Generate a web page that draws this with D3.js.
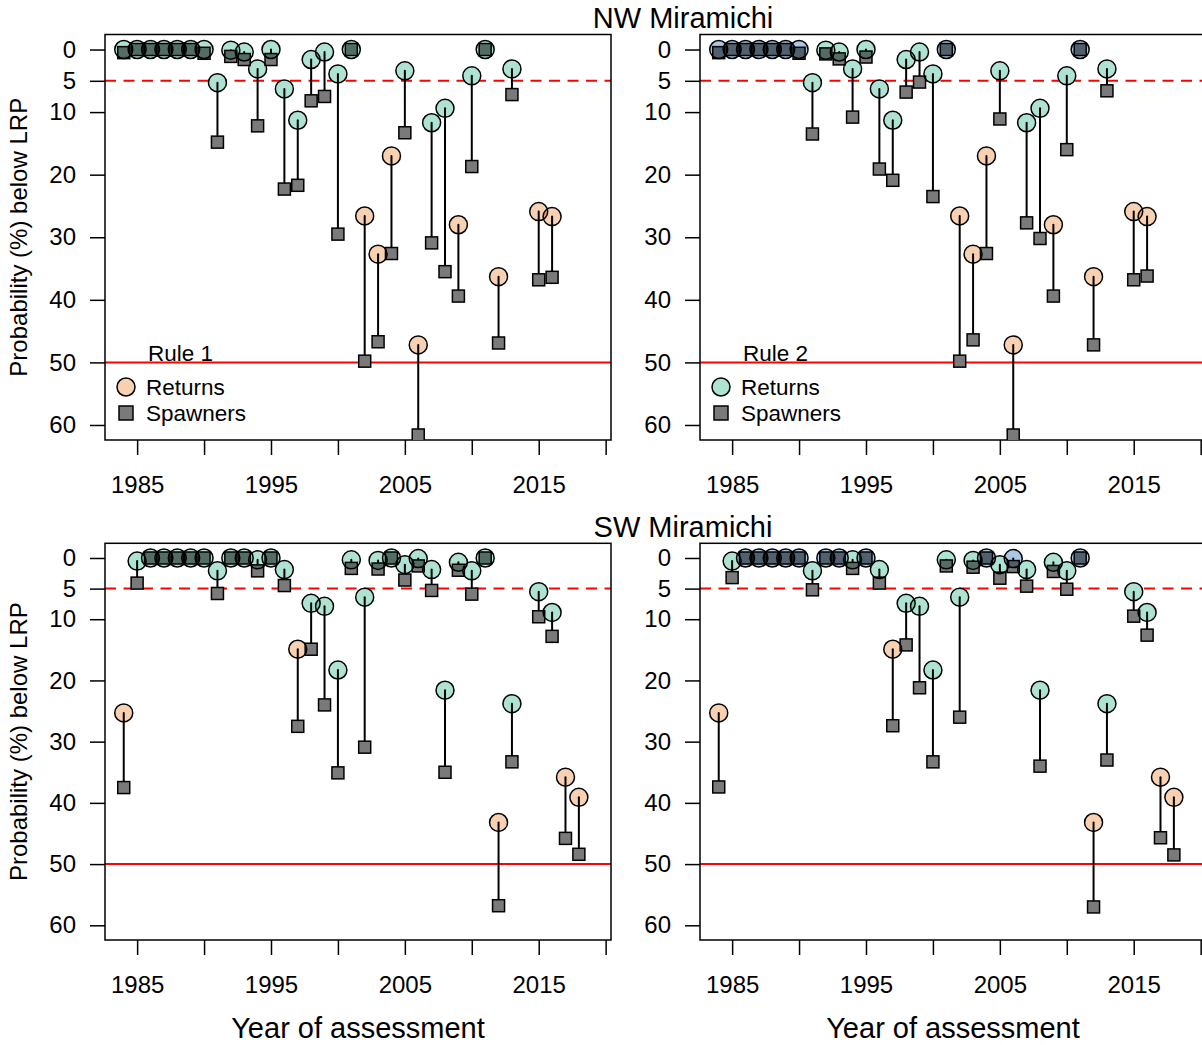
<!DOCTYPE html>
<html>
<head>
<meta charset="utf-8">
<script src="https://cdn.jsdelivr.net/npm/d3@7"></script>
<style>
  body { margin: 0; background: #fff; }
  svg { font-family: "Liberation Sans", Arial, sans-serif; }
</style>
</head>
<body>
<div id="chart"></div>
<script>
'use strict';

// years of assessment
var yearsNW = [1984, 1985, 1986, 1987, 1988, 1989, 1990, 1991, 1992, 1993, 1994, 1995, 1996, 1997, 1998, 1999,
  2000, 2001, 2002, 2003, 2004, 2005, 2006, 2007, 2008, 2009, 2010, 2011, 2012, 2013, 2015, 2016];
var yearsSW = [1984, 1985, 1986, 1987, 1988, 1989, 1990, 1991, 1992, 1993, 1994, 1995, 1996, 1997, 1998, 1999,
  2000, 2001, 2002, 2003, 2004, 2005, 2006, 2007, 2008, 2009, 2010, 2011, 2012, 2013, 2015, 2016, 2017, 2018];

// probability (%) below LRP - returns (same for both rules)
var returnsNW = [0, 0, 0, 0, 0, 0, 0, 5.3, 0.1, 0.4, 3.1, 0, 6.3, 11.3, 1.6, 0.4,
  3.9, 0, 26.6, 32.7, 17.0, 3.4, 47.2, 11.7, 9.4, 28.0, 4.2, 0, 36.3, 3.1, 25.9, 26.7];
var returnsSW = [25.3, 0.5, 0, 0, 0, 0, 0, 2.1, 0, 0, 0.3, 0, 1.9, 14.9, 7.4, 7.9,
  18.3, 0.3, 6.4, 0.4, 0, 1.1, 0.1, 1.9, 21.6, 0.7, 2.1, 0, 43.2, 23.8, 5.5, 8.9, 35.8, 39.1];

// probability (%) below LRP - spawners
var spawnersNW1 = [0.5, 0, 0, 0, 0, 0, 0.6, 14.8, 1.1, 1.6, 12.2, 1.6, 22.3, 21.7, 8.2, 7.5,
  29.5, 0, 49.8, 46.7, 32.6, 13.3, 61.6, 30.9, 35.5, 39.4, 18.7, 0, 46.9, 7.2, 36.8, 36.4];
var spawnersNW2 = [0.5, 0, 0, 0, 0, 0, 0.6, 13.5, 0.7, 1.5, 10.8, 1.2, 19.1, 20.9, 6.8, 5.2,
  23.5, 0, 49.8, 46.4, 32.6, 11.1, 61.6, 27.7, 30.2, 39.4, 16.0, 0, 47.2, 6.6, 36.8, 36.2];
var spawnersSW1 = [37.5, 4.1, 0, 0, 0, 0, 0, 5.8, 0, 0, 2.1, 0, 4.5, 27.5, 14.9, 24.0,
  35.1, 1.7, 30.9, 1.8, 0, 3.6, 1.3, 5.3, 35.0, 2.0, 5.9, 0, 56.8, 33.3, 9.6, 12.8, 45.8, 48.4];
var spawnersSW2 = [37.4, 3.2, 0, 0, 0, 0, 0, 5.2, 0, 0, 1.7, 0, 4.1, 27.4, 14.2, 21.2,
  33.3, 1.3, 26.0, 1.5, 0, 3.3, 1.4, 4.6, 34.0, 2.2, 5.1, 0, 57.0, 33.0, 9.5, 12.6, 45.7, 48.5];

// circle colour class: T = teal, P = peach, B = blue
var statusNW1 = 'TTTTTTTTTTTTTTTTTTPPPTPTTPTTPTPP'.split('');
var statusNW2 = 'BBBBBBBTTTTTTTTTTBPPPTPTTPTBPTPP'.split('');
var statusSW1 = 'PTTTTTTTTTTTTPTTTTTTTTTTTTTTPTTTPP'.split('');
var statusSW2 = 'PTBBBBBTBBTBTPTTTTTTBTBTTTTBPTTTPP'.split('');

var yTicks = [0, 5, 10, 20, 30, 40, 50, 60];
var xTicks = [1985, 1990, 1995, 2000, 2005, 2010, 2015, 2020];
var xLabels = [1985, 1995, 2005, 2015];

var fills = {T: '#aee3d4', P: '#f7d1b2', B: '#a9c8e4'};

var svg = d3.select('#chart').append('svg')
  .attr('width', 1202)
  .attr('height', 1045);

svg.append('rect').attr('width', 1202).attr('height', 1045).attr('fill', '#fff');

function drawPanel(opts) {
  var x = d3.scaleLinear().domain([1982.6, 2020.4]).range([opts.left, opts.left + 506]);
  var y = d3.scaleLinear().domain([-2.4, 62.4]).range([opts.top, opts.bottom]);
  var g = svg.append('g');

  var pts = opts.years.map(function(yr, i) {
    return {year: yr, ret: opts.returns[i], spa: opts.spawners[i], status: opts.status[i]};
  });

  // reference lines
  g.append('line')
    .attr('x1', x.range()[0]).attr('x2', x.range()[1])
    .attr('y1', y(5)).attr('y2', y(5))
    .attr('stroke', '#ff0000').attr('stroke-width', 2)
    .attr('stroke-dasharray', '11,7.5');
  g.append('line')
    .attr('x1', x.range()[0]).attr('x2', x.range()[1])
    .attr('y1', y(50)).attr('y2', y(50))
    .attr('stroke', '#ff0000').attr('stroke-width', 2);

  // axes (R style, ticks outside)
  var yAxis = g.append('g').attr('transform', 'translate(' + opts.left + ',0)')
    .call(d3.axisLeft(y).tickValues(yTicks).tickSize(15).tickPadding(14));
  var xAxis = g.append('g').attr('transform', 'translate(0,' + opts.bottom + ')')
    .call(d3.axisBottom(x).tickValues(xTicks).tickSize(15).tickPadding(21)
      .tickFormat(function(d) { return xLabels.indexOf(d) >= 0 ? d : ''; }));
  [yAxis, xAxis].forEach(function(a) {
    a.select('.domain').remove();
    a.selectAll('line').attr('stroke', '#000').attr('stroke-width', 1.5);
    a.selectAll('text').attr('fill', '#000').style('font-size', '24px')
      .style('font-family', '"Liberation Sans", Arial, sans-serif');
  });

  g.append('rect')
    .attr('x', opts.left).attr('y', opts.top)
    .attr('width', 506).attr('height', opts.bottom - opts.top)
    .attr('fill', 'none').attr('stroke', '#000').attr('stroke-width', 1.5);

  var clipId = 'clip' + opts.id;
  svg.append('clipPath').attr('id', clipId).append('rect')
    .attr('x', opts.left).attr('y', opts.top)
    .attr('width', 506).attr('height', opts.bottom - opts.top);
  var plot = g.append('g').attr('clip-path', 'url(#' + clipId + ')');

  plot.selectAll('.seg').data(pts).enter().append('line')
    .attr('class', 'seg')
    .attr('x1', function(d) { return x(d.year); })
    .attr('x2', function(d) { return x(d.year); })
    .attr('y1', function(d) { return y(d.ret); })
    .attr('y2', function(d) { return y(d.spa); })
    .attr('stroke', '#000').attr('stroke-width', 2).attr('stroke-linecap', 'round');

  plot.selectAll('.spa').data(pts).enter().append('rect')
    .attr('class', 'spa')
    .attr('x', function(d) { return x(d.year) - 6; })
    .attr('y', function(d) { return y(d.spa) - 6; })
    .attr('width', 12).attr('height', 12)
    .attr('fill', '#7a7a7a').attr('stroke', '#000').attr('stroke-width', 1.5);

  plot.selectAll('.ret').data(pts).enter().append('circle')
    .attr('class', 'ret')
    .attr('cx', function(d) { return x(d.year); })
    .attr('cy', function(d) { return y(d.ret); })
    .attr('r', 9)
    .attr('fill', function(d) { return fills[d.status]; })
    .attr('stroke', '#000').attr('stroke-width', 1.5)
    .style('mix-blend-mode', 'multiply');

  if (opts.yLabel) {
    svg.append('text')
      .attr('transform', 'translate(18,' + ((opts.top + opts.bottom) / 2) + ') rotate(-90)')
      .attr('text-anchor', 'middle').attr('dominant-baseline', 'central')
      .style('font-size', '24px')
      .text('Probability (%) below LRP');
  }
  if (opts.xLabel) {
    svg.append('text')
      .attr('x', opts.left + 253).attr('y', 1038)
      .attr('text-anchor', 'middle')
      .style('font-size', '29px')
      .text('Year of assessment');
  }
  if (opts.legend) {
    var lg = g.append('g');
    lg.append('text').attr('x', opts.left + 43).attr('y', 361)
      .style('font-size', '22.5px').text(opts.rule);
    lg.append('circle').attr('cx', opts.left + 21).attr('cy', 387).attr('r', 9)
      .attr('fill', fills[opts.legendFill]).attr('stroke', '#000').attr('stroke-width', 1.5);
    lg.append('text').attr('x', opts.left + 41).attr('y', 387)
      .attr('dominant-baseline', 'central').style('font-size', '22.5px').text('Returns');
    lg.append('rect').attr('x', opts.left + 14).attr('y', 406).attr('width', 14).attr('height', 14)
      .attr('fill', '#7a7a7a').attr('stroke', '#000').attr('stroke-width', 1.5);
    lg.append('text').attr('x', opts.left + 41).attr('y', 413)
      .attr('dominant-baseline', 'central').style('font-size', '22.5px').text('Spawners');
  }
}

drawPanel({id: 1, left: 105, top: 34.5, bottom: 440, years: yearsNW, returns: returnsNW,
  spawners: spawnersNW1, status: statusNW1, yLabel: true, legend: true, rule: 'Rule 1', legendFill: 'P'});
drawPanel({id: 2, left: 700, top: 34.5, bottom: 440, years: yearsNW, returns: returnsNW,
  spawners: spawnersNW2, status: statusNW2, legend: true, rule: 'Rule 2', legendFill: 'T'});
drawPanel({id: 3, left: 105, top: 543.3, bottom: 940, years: yearsSW, returns: returnsSW,
  spawners: spawnersSW1, status: statusSW1, yLabel: true, xLabel: true});
drawPanel({id: 4, left: 700, top: 543.3, bottom: 940, years: yearsSW, returns: returnsSW,
  spawners: spawnersSW2, status: statusSW2, xLabel: true});

svg.append('text').attr('x', 683).attr('y', 28).attr('text-anchor', 'middle')
  .style('font-size', '29px').text('NW Miramichi');
svg.append('text').attr('x', 683).attr('y', 537).attr('text-anchor', 'middle')
  .style('font-size', '29px').text('SW Miramichi');
</script>
</body>
</html>
